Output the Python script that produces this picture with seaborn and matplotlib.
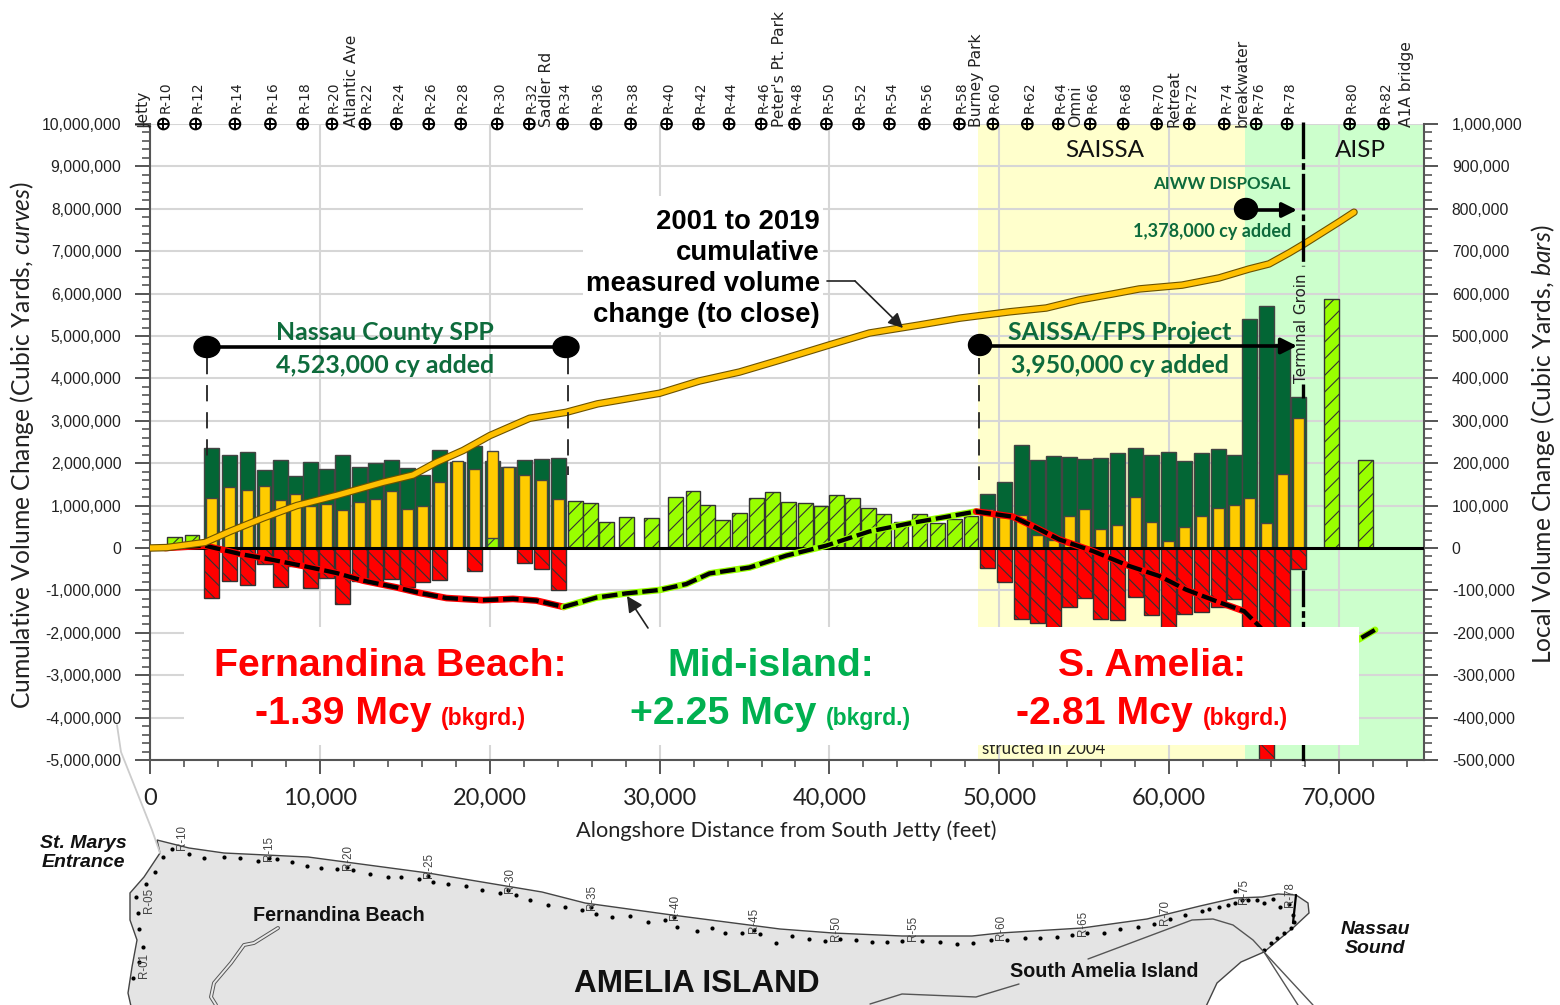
# -*- coding: utf-8 -*-
import numpy as np
import matplotlib
matplotlib.use('Agg')
import matplotlib.pyplot as plt
import seaborn as sns
from matplotlib.patches import Ellipse, Rectangle, Polygon
from matplotlib.ticker import MultipleLocator, FuncFormatter

## bars (feet alongshore, local volume in thousand cy)
x_north = [3630, 4670, 5750, 6750, 7670, 8570, 9450, 10370, 11350, 12310, 13250,
           14220, 15160, 16040, 17020, 18080, 19120, 20160, 21120, 22060, 23020, 24060]
green_north = [236, 220, 226, 185, 207, 170, 203, 187, 220, 190, 200,
               208, 188, 171, 231, 203, 240, 205, 190, 208, 210, 213]
yellow_north = [117, 143, 137, 147, 114, 128, 100, 104, 89, 109, 116,
                135, 93, 100, 155, 205, 186, 228, 191, 172, 161, 116]
red_north = [-119, -77, -88, -37, -93, -42, -94, -71, -131, -77, -81,
             -73, -93, -80, -76, 0, -55, 0, 0, -35, -49, -98]

x_south = [49280, 50290, 51290, 52220, 53180, 54120, 55020, 55960, 56980, 58000,
           58980, 59940, 60880, 61880, 62880, 63860, 64750, 65710, 66670, 67590]
green_south = [128, 155, 244, 207, 217, 214, 209, 212, 225, 237,
               220, 227, 205, 225, 233, 220, 541, 571, 480, 356]
yellow_south = [91, 74, 77, 30, 20, 76, 91, 45, 54, 120,
                61, 17, 49, 76, 94, 101, 117, 60, 174, 307]
red_south = [-47, -80, -167, -176, -190, -139, -118, -167, -170, -116,
             -159, -190, -156, -150, -140, -120, -200, -500, -200, -49]

x_lime = [1430, 2470, 25060, 25940, 26880, 28060, 29510, 30940, 31960, 32820, 33710,
          34720, 35710, 36650, 37600, 38590, 39510, 40430, 41370, 42280,
          43180, 44220, 45310, 46370, 47350, 48330, 69570, 71570]
lime_vals = [25, 31, 112, 107, 61, 73, 70, 120, 135, 101, 65,
             82, 119, 131, 108, 105, 98, 126, 117, 95,
             80, 62, 81, 59, 68, 76, 587, 207]
x_lime_foot = [20160]
lime_foot = [23]

## curves (feet, million cy)
cum_x = [0, 980, 3235, 4700, 6670, 8630, 10980, 13720, 15480, 16860, 18430, 20000, 22350,
         24500, 26350, 30000, 32350, 34700, 37060, 40000, 42350, 45290, 47650, 50590,
         52760, 54700, 56650, 58240, 60760, 62940, 64700, 65880, 67060, 67940, 70000, 70880]
cum_y = [0, 0.01, 0.13, 0.39, 0.71, 1.0, 1.24, 1.55, 1.72, 2.02, 2.3, 2.65, 3.06,
         3.2, 3.4, 3.65, 3.94, 4.15, 4.43, 4.79, 5.07, 5.26, 5.42, 5.57,
         5.66, 5.85, 5.99, 6.11, 6.2, 6.37, 6.58, 6.7, 6.96, 7.17, 7.69, 7.92]

bg_x_north = [880, 3235, 5290, 7250, 9220, 10980, 12550, 14510, 15880, 17450, 19590, 21370, 22750, 24350]
bg_y_north = [0, 0.055, -0.14, -0.283, -0.44, -0.59, -0.77, -0.93, -1.06, -1.18, -1.23, -1.2, -1.24, -1.39]
bg_x_mid = [24350, 26270, 28040, 30000, 31570, 32940, 35290, 37450, 39800, 42350, 44700, 48630]
bg_y_mid = [-1.39, -1.17, -1.07, -0.99, -0.85, -0.6, -0.46, -0.18, 0.055, 0.39, 0.58, 0.86]
bg_x_south = [48630, 50780, 51960, 53530, 55490, 57650, 59410, 60980, 62940, 64410, 65290, 66500, 68000]
bg_y_south = [0.86, 0.74, 0.52, 0.2, -0.07, -0.425, -0.66, -0.98, -1.28, -1.49, -1.84, -2.35, -2.55]
bg_x_end = [68000, 69500, 71180, 72120]
bg_y_end = [-2.55, -2.4, -2.15, -1.93]

## station labels along the top
r_names = ['R-%d' % n for n in range(10, 84, 2)]
r_x = [790, 2680, 5000, 7090, 8990, 10710, 12650, 14500, 16410, 18290, 20440, 22330, 24290,
       26260, 28290, 30410, 32290, 34090, 35980, 37940, 39820, 41710, 43530, 45590, 47650,
       49620, 51650, 53470, 55350, 57290, 59260, 61180, 63240, 65120, 66940, 70620, 72620]
place_names = ['Jetty', 'Atlantic Ave', 'Sadler Rd', "Peter's Pt. Park", 'Burney Park',
               'Omni', 'Retreat', 'breakwater', 'A1A bridge']
place_px = [144, 351, 546.5, 779.5, 976, 1076, 1174, 1242.5, 1406]

## map, in picture pixels
coast_px = [(157, 840), (189, 848), (224, 853), (308, 857), (428, 873), (542, 892), (585, 903),
            (672, 915), (780, 929), (833, 933), (902, 936), (972, 936), (1000, 933), (1082, 928),
            (1147, 919), (1200, 906), (1235, 898), (1262, 897), (1278, 894), (1296, 895),
            (1308, 903), (1309, 913), (1294, 927), (1264, 952), (1241, 962), (1217, 983),
            (1202, 1015), (133, 1015), (128, 993), (132, 967), (137, 940), (130, 920),
            (130, 893), (144, 877), (160, 853)]
dots_west = [(327, 230), (345, 208), (380, 222), (410, 233), (450, 230), (483, 233), (519, 243),
             (540, 235), (556, 237), (586, 247), (618, 257), (646, 263), (678, 268), (697, 262),
             (709, 270), (744, 283), (780, 290), (807, 292), (842, 298), (860, 288), (870, 306),
             (900, 311), (937, 319), (969, 331), (1004, 340), (1022, 330), (1037, 345),
             (1066, 361), (1102, 374), (1135, 382), (1169, 390), (1188, 380), (1198, 401),
             (1231, 410), (1267, 408), (1302, 427), (1336, 420), (1355, 410), (1361, 440),
             (1401, 452), (1432, 445), (1458, 460), (1492, 458), (1515, 450), (1528, 463),
             (1560, 490), (312, 275), (294, 313), (273, 352), (278, 398), (280, 447),
             (287, 500), (280, 545), (268, 593)]
dots_east = [(30, 467), (72, 478), (110, 483), (148, 477), (186, 481), (226, 486), (263, 486),
             (300, 483), (348, 482), (393, 487), (434, 491), (473, 490), (517, 480), (556, 481),
             (600, 474), (638, 474), (678, 470), (716, 466), (752, 460), (793, 460), (832, 447),
             (876, 441), (916, 433), (955, 418), (993, 405), (1033, 392), (1052, 388),
             (1075, 380), (1097, 375), (1115, 368), (1115, 333), (1133, 360), (1147, 360),
             (1168, 360), (1187, 368), (1207, 356), (1224, 382), (1247, 373), (1258, 405),
             (1260, 425), (1252, 443), (1235, 460), (1217, 475), (1203, 490), (1187, 510)]
map_names = ['R-10', 'R-15', 'R-20', 'R-25', 'R-30', 'R-35', 'R-40', 'R-45', 'R-50', 'R-55',
             'R-60', 'R-65', 'R-70', 'R-75', 'R-78', 'R-05', 'R-01']
map_label_px = [(182, 837), (269, 848), (348, 857), (429, 865), (510, 880), (592, 897), (675, 907),
                (754, 920), (836, 928), (913, 928), (1001, 927), (1083, 923), (1165, 912),
                (1244, 891), (1290, 895), (149, 900), (144, 965)]

#%%
sns.set_theme(style='ticks')
plt.rcParams['font.family'] = ['Lato', 'DejaVu Sans']
plt.rcParams['hatch.linewidth'] = 0.8
plt.rcParams['mathtext.fontset'] = 'custom'
plt.rcParams['mathtext.it'] = 'Lato:italic'

W, H = 1560, 1005
fig = plt.figure(figsize=(W / 100, H / 100), dpi=100, facecolor='white')
rect = [150 / W, 1 - 760 / H, (1424 - 150) / W, (760 - 124) / H]
ax2 = fig.add_axes(rect, zorder=1)   # bars, right hand scale
ax = fig.add_axes(rect, zorder=2, sharex=ax2)    # curves, left hand scale
ax.patch.set_visible(False)


def bars(x, vals, color, wide, **kw):
    pts = [(a, b * 1000) for a, b in zip(x, vals) if b != 0]
    xs = np.array([p[0] for p in pts], dtype=float)
    ys = np.array([p[1] for p in pts], dtype=float)
    step = np.diff(np.unique(xs)).min() if len(xs) > 1 else 1
    sns.barplot(x=xs, y=ys, native_scale=True, width=wide / step, color=color,
                saturation=1, ax=ax2, errorbar=None, **kw)


ax2.axvspan(48760, 64470, color='#ffffcc', lw=0, zorder=0)
ax2.axvspan(64470, 75000, color='#ccffcc', lw=0, zorder=0)

x_all = x_north + x_south
bars(x_lime, lime_vals, '#99ff00', 860, edgecolor='#333333', linewidth=1, hatch='//')
bars(x_all, green_north + green_south, '#036635', 880, edgecolor='#444444', linewidth=1)
bars(x_all, yellow_north + yellow_south, '#ffcc00', 650, edgecolor='#444444', linewidth=1)
bars(x_lime_foot, lime_foot, '#99ff00', 650, edgecolor='#444444', linewidth=1, hatch='//')
bars(x_all, red_north + red_south, '#ff0000', 880, edgecolor='#333333', linewidth=1, hatch='\\\\')

ax.axhline(0, color='black', lw=2.2, zorder=2)

halo = dict(sort=False, estimator=None, lw=4.8, ax=ax, zorder=3)
sns.lineplot(x=bg_x_north, y=np.array(bg_y_north) * 1e6, color='#ff0000', **halo)
sns.lineplot(x=bg_x_mid, y=np.array(bg_y_mid) * 1e6, color='#99ff00', **halo)
sns.lineplot(x=bg_x_south, y=np.array(bg_y_south) * 1e6, color='#ff0000', **halo)
sns.lineplot(x=bg_x_end, y=np.array(bg_y_end) * 1e6, color='#99ff00', **halo)
bg_x = bg_x_north + bg_x_mid[1:] + bg_x_south[1:] + bg_x_end[1:]
bg_y = np.array(bg_y_north + bg_y_mid[1:] + bg_y_south[1:] + bg_y_end[1:]) * 1e6
sns.lineplot(x=bg_x, y=bg_y, sort=False, estimator=None, color='black', lw=3.1, ax=ax, zorder=4,
             linestyle=(0, (3.6, 1.1)))
sns.lineplot(x=cum_x, y=np.array(cum_y) * 1e6, sort=False, estimator=None, color='#6b5200', lw=5.4, ax=ax, zorder=5)
sns.lineplot(x=cum_x, y=np.array(cum_y) * 1e6, sort=False, estimator=None, color='#ffc000', lw=3.8, ax=ax, zorder=6)

# stations on top
sns.scatterplot(x=r_x, y=[10e6] * len(r_x), marker='o', s=60, facecolor='none', edgecolor='black',
                linewidth=1.4, clip_on=False, ax=ax, zorder=8)
sns.scatterplot(x=r_x, y=[10e6] * len(r_x), marker='+', s=60, color='black',
                linewidth=1.4, clip_on=False, ax=ax, zorder=8)
for name, xp in zip(r_names, r_x):
    ax.text(xp + 120, 10.26e6, name, rotation=90, ha='center', va='bottom', fontsize=10,
            family='DejaVu Sans', color='#222222', clip_on=False)

ax.set_xlim(0, 75000)
ax.set_ylim(-5e6, 10e6)
ax2.set_ylim(-5e5, 1e6)
ax2.yaxis.tick_right()
ax2.set_xlabel('')
ax.set_xlabel('')

ax2.yaxis.set_major_locator(MultipleLocator(100000))
ax2.yaxis.set_minor_locator(MultipleLocator(20000))
ax.yaxis.set_major_locator(MultipleLocator(1000000))
ax.yaxis.set_minor_locator(MultipleLocator(200000))
ax.xaxis.set_major_locator(MultipleLocator(10000))
ax.xaxis.set_minor_locator(MultipleLocator(2000))
comma = FuncFormatter(lambda v, p: '{:,.0f}'.format(v))
ax.yaxis.set_major_formatter(comma)
ax2.yaxis.set_major_formatter(comma)
ax.xaxis.set_major_formatter(comma)

ax2.grid(True, which='major', color='#d6d6d6', lw=1.5)
ax2.set_axisbelow(True)
ax.grid(False)
spine_c = '#555555'
ax.spines['right'].set_visible(False)
ax.spines['top'].set_visible(False)
ax2.spines['left'].set_visible(False)
ax2.spines['top'].set_visible(False)
ax.spines['left'].set_color(spine_c)
ax.spines['bottom'].set_color(spine_c)
ax2.spines['right'].set_color(spine_c)
ax2.spines['bottom'].set_visible(False)
for sp in [ax.spines['left'], ax.spines['bottom'], ax2.spines['right']]:
    sp.set_linewidth(1.5)

ax.tick_params(axis='y', which='major', length=10.5, width=1.4, color=spine_c, pad=10)
ax.tick_params(axis='y', which='minor', length=5.5, width=1.2, color=spine_c)
ax.tick_params(axis='x', which='major', length=10, width=1.4, color=spine_c, pad=10, labelsize=17, labelcolor='#222222')
ax.tick_params(axis='x', which='minor', length=5, width=1.2, color=spine_c)
ax2.tick_params(axis='y', which='major', length=10, width=1.4, color=spine_c, pad=10)
ax2.tick_params(axis='y', which='minor', length=5.5, width=1.2, color=spine_c)
ax2.tick_params(axis='x', which='both', length=0, labelbottom=False)
for lab in ax.get_yticklabels() + ax2.get_yticklabels():
    lab.set_family('Liberation Sans')
    lab.set_fontsize(11.3)
    lab.set_color('#222222')

#%%
## everything else lives on a picture-pixel overlay
ov = fig.add_axes([0, 0, 1, 1], zorder=3)
ov.set_xlim(0, W)
ov.set_ylim(H, 0)
ov.axis('off')

for name, xp in zip(place_names, place_px):
    ov.text(xp, 127, name, rotation=90, ha='center', va='bottom', fontsize=11.2,
            family='DejaVu Sans', color='#222222')
ov.text(1302, 383, 'Terminal Groin', rotation=90, ha='center', va='bottom', fontsize=10.9,
        family='DejaVu Sans', color='#222222')
ov.plot([137, 150], [126, 126], color='#333333', lw=1)
ov.plot([143, 143], [122, 126], color='#333333', lw=1)

# terminal groin, it stops at its label and passes behind the last bar
groin = dict(color='black', lw=2.4, linestyle=(0, (11, 1.2, 2, 1.2)), zorder=1)
ov.plot([1302.5, 1302.5], [122, 266], **groin)
ov.plot([1302.5, 1302.5], [384, 398], **groin)
ov.plot([1302.5, 1302.5], [570, 765], **groin)

ov.text(22, 445, r'Cumulative Volume Change (Cubic Yards, $\it{curves}$)', rotation=90,
        ha='center', va='center', fontsize=17.7, color='#222222')
ov.text(1543, 444, r'Local Volume Change (Cubic Yards, $\it{bars}$)', rotation=90,
        ha='center', va='center', fontsize=17.7, color='#222222')
ov.text(786, 831, 'Alongshore Distance from South Jetty (feet)', ha='center', va='center',
        fontsize=15.7, color='#222222')
ov.text(1105, 150, 'SAISSA', ha='center', va='center', fontsize=17.5, color='#111111')
ov.text(1360, 150, 'AISP', ha='center', va='center', fontsize=17.5, color='#111111')

# light leader from the axis to the jetty
ov.plot([117, 121, 152, 160], [725, 752, 830, 853], color='#cccccc', lw=1.3)

# project spans
dark_green = '#0e6b3c'
for xp, y0, y1 in [(207, 358, 463), (568, 358, 475), (979, 358, 480)]:
    ov.plot([xp, xp], [y0, y1], color='#222222', lw=1.3, linestyle=(0, (9, 6)))
ov.plot([207, 566], [347, 347], color='black', lw=2.6)
ov.add_patch(Ellipse((207, 347), 26, 21, color='black'))
ov.add_patch(Ellipse((566, 347), 26, 21, color='black'))
ov.add_patch(Ellipse((980, 345), 23, 21, color='black'))
ov.annotate('', xy=(1297, 346), xytext=(980, 346),
            arrowprops=dict(arrowstyle='-|>', color='black', lw=2.6, mutation_scale=24, shrinkA=0, shrinkB=0))
ov.add_patch(Ellipse((1246, 209), 23, 21, color='black'))
ov.annotate('', xy=(1297, 210), xytext=(1246, 210),
            arrowprops=dict(arrowstyle='-|>', color='black', lw=2.6, mutation_scale=22, shrinkA=0, shrinkB=0))

ov.text(385, 332, 'Nassau County SPP', ha='center', va='center', fontsize=17.9, fontweight='bold', color=dark_green)
ov.text(385, 365, '4,523,000 cy added', ha='center', va='center', fontsize=17.9, fontweight='bold', color=dark_green)
ov.text(1120, 332, 'SAISSA/FPS Project', ha='center', va='center', fontsize=17.9, fontweight='bold', color=dark_green)
ov.text(1120, 365, '3,950,000 cy added', ha='center', va='center', fontsize=17.9, fontweight='bold', color=dark_green)
ov.text(1222, 184, 'AIWW DISPOSAL', ha='center', va='center', fontsize=12.2, fontweight='bold', color=dark_green)
ov.text(1212, 231, '1,378,000 cy added', ha='center', va='center', fontsize=13, fontweight='bold', color=dark_green)

# cumulative callout
ov.add_patch(Rectangle((583, 196), 240, 136, color='white', lw=0, zorder=1))
for txt, yp in zip(['2001 to 2019', 'cumulative', 'measured volume', 'change (to close)'], [222, 253, 284, 315]):
    ov.text(820, yp, txt, ha='right', va='center', fontsize=19.8, fontweight='bold',
            family='Liberation Sans', color='black', zorder=3)
ov.plot([827, 855], [281, 281], color='#222222', lw=1.2, zorder=3)
ov.annotate('', xy=(903, 328), xytext=(855, 281), zorder=3,
            arrowprops=dict(arrowstyle='-|>', color='#222222', lw=1.2, mutation_scale=22, shrinkA=0, shrinkB=0))

# white panel over the lower part of the plot
ov.text(1044, 749, 'structed in 2004', ha='center', va='center', fontsize=12.2, color='#222222', zorder=1)
ov.add_patch(Rectangle((184, 627), 1175, 118, color='white', lw=0, zorder=2))
ov.annotate('', xy=(627, 596), xytext=(648, 628), zorder=3,
            arrowprops=dict(arrowstyle='-|>', color='#222222', lw=1.2, mutation_scale=24, shrinkA=0, shrinkB=0))

bkg_red = '#ff0000'
bkg_grn = '#00b050'
big = dict(ha='center', va='center', fontweight='bold', family='Liberation Sans', zorder=4)
ov.text(390, 666, 'Fernandina Beach:', fontsize=28.3, color=bkg_red, **big)
ov.text(343, 714, '-1.39 Mcy', fontsize=28.3, color=bkg_red, **big)
ov.text(483, 718, '(bkgrd.)', fontsize=16.5, color=bkg_red, **big)
ov.text(771, 666, 'Mid-island:', fontsize=28.3, color=bkg_grn, **big)
ov.text(723, 714, '+2.25 Mcy', fontsize=28.3, color=bkg_grn, **big)
ov.text(868, 718, '(bkgrd.)', fontsize=16.5, color=bkg_grn, **big)
ov.text(1152, 666, 'S. Amelia:', fontsize=28.3, color=bkg_red, **big)
ov.text(1104, 714, '-2.81 Mcy', fontsize=28.3, color=bkg_red, **big)
ov.text(1245, 718, '(bkgrd.)', fontsize=16.5, color=bkg_red, **big)

#%%
## island map
ov.add_patch(Polygon(coast_px, closed=True, facecolor='#e4e4e4', edgecolor='#444444', lw=1.0))
road1 = [(278, 928), (254, 943), (244, 945), (231, 963), (214, 983), (211, 997), (216, 1005)]
ov.plot(*zip(*road1), color='#555555', lw=2.8)
ov.plot(*zip(*road1), color='#e8e8e8', lw=1.4)
ov.plot([1088, 1192, 1213, 1233, 1253, 1264, 1298], [959, 920, 919, 925, 940, 952, 1005], color='#555555', lw=1)
ov.plot([1264, 1313], [952, 1005], color='#555555', lw=1)
ov.plot([870, 902, 976, 1019], [1004, 994, 997, 984], color='#555555', lw=1)
ov.plot([1296, 1293], [895, 923], color='black', lw=1.6)
ov.set_xlim(0, W)
ov.set_ylim(H, 0)

d1 = np.array(dots_west) / [2.01, 3] + [0, 780]
d2 = np.array(dots_east) / [2.45, 3] + [780, 780]
dots = np.vstack([d1, d2])
sns.scatterplot(x=dots[:, 0], y=dots[:, 1], s=9, color='black', linewidth=0, ax=ov)
ov.set_xlabel('')
ov.set_ylabel('')
ov.axis('off')

for name, (xp, yp) in zip(map_names, map_label_px):
    ov.text(xp, yp, name, rotation=90, ha='center', va='center', fontsize=8.3,
            family='Liberation Sans', color='#444444')

bold = dict(ha='center', va='center', fontweight='bold', family='Liberation Sans', color='#111111')
ov.text(83, 853, 'St. Marys\nEntrance', fontsize=14, fontstyle='italic', linespacing=1.2, **bold)
ov.text(1375, 939, 'Nassau\nSound', fontsize=14, fontstyle='italic', linespacing=1.2, **bold)
ov.text(339, 915, 'Fernandina Beach', fontsize=14.2, **bold)
ov.text(1104, 971, 'South Amelia Island', fontsize=14.2, **bold)
ov.text(697, 984, 'AMELIA ISLAND', fontsize=22.7, **bold)

fig.savefig('out.png', dpi=100)
